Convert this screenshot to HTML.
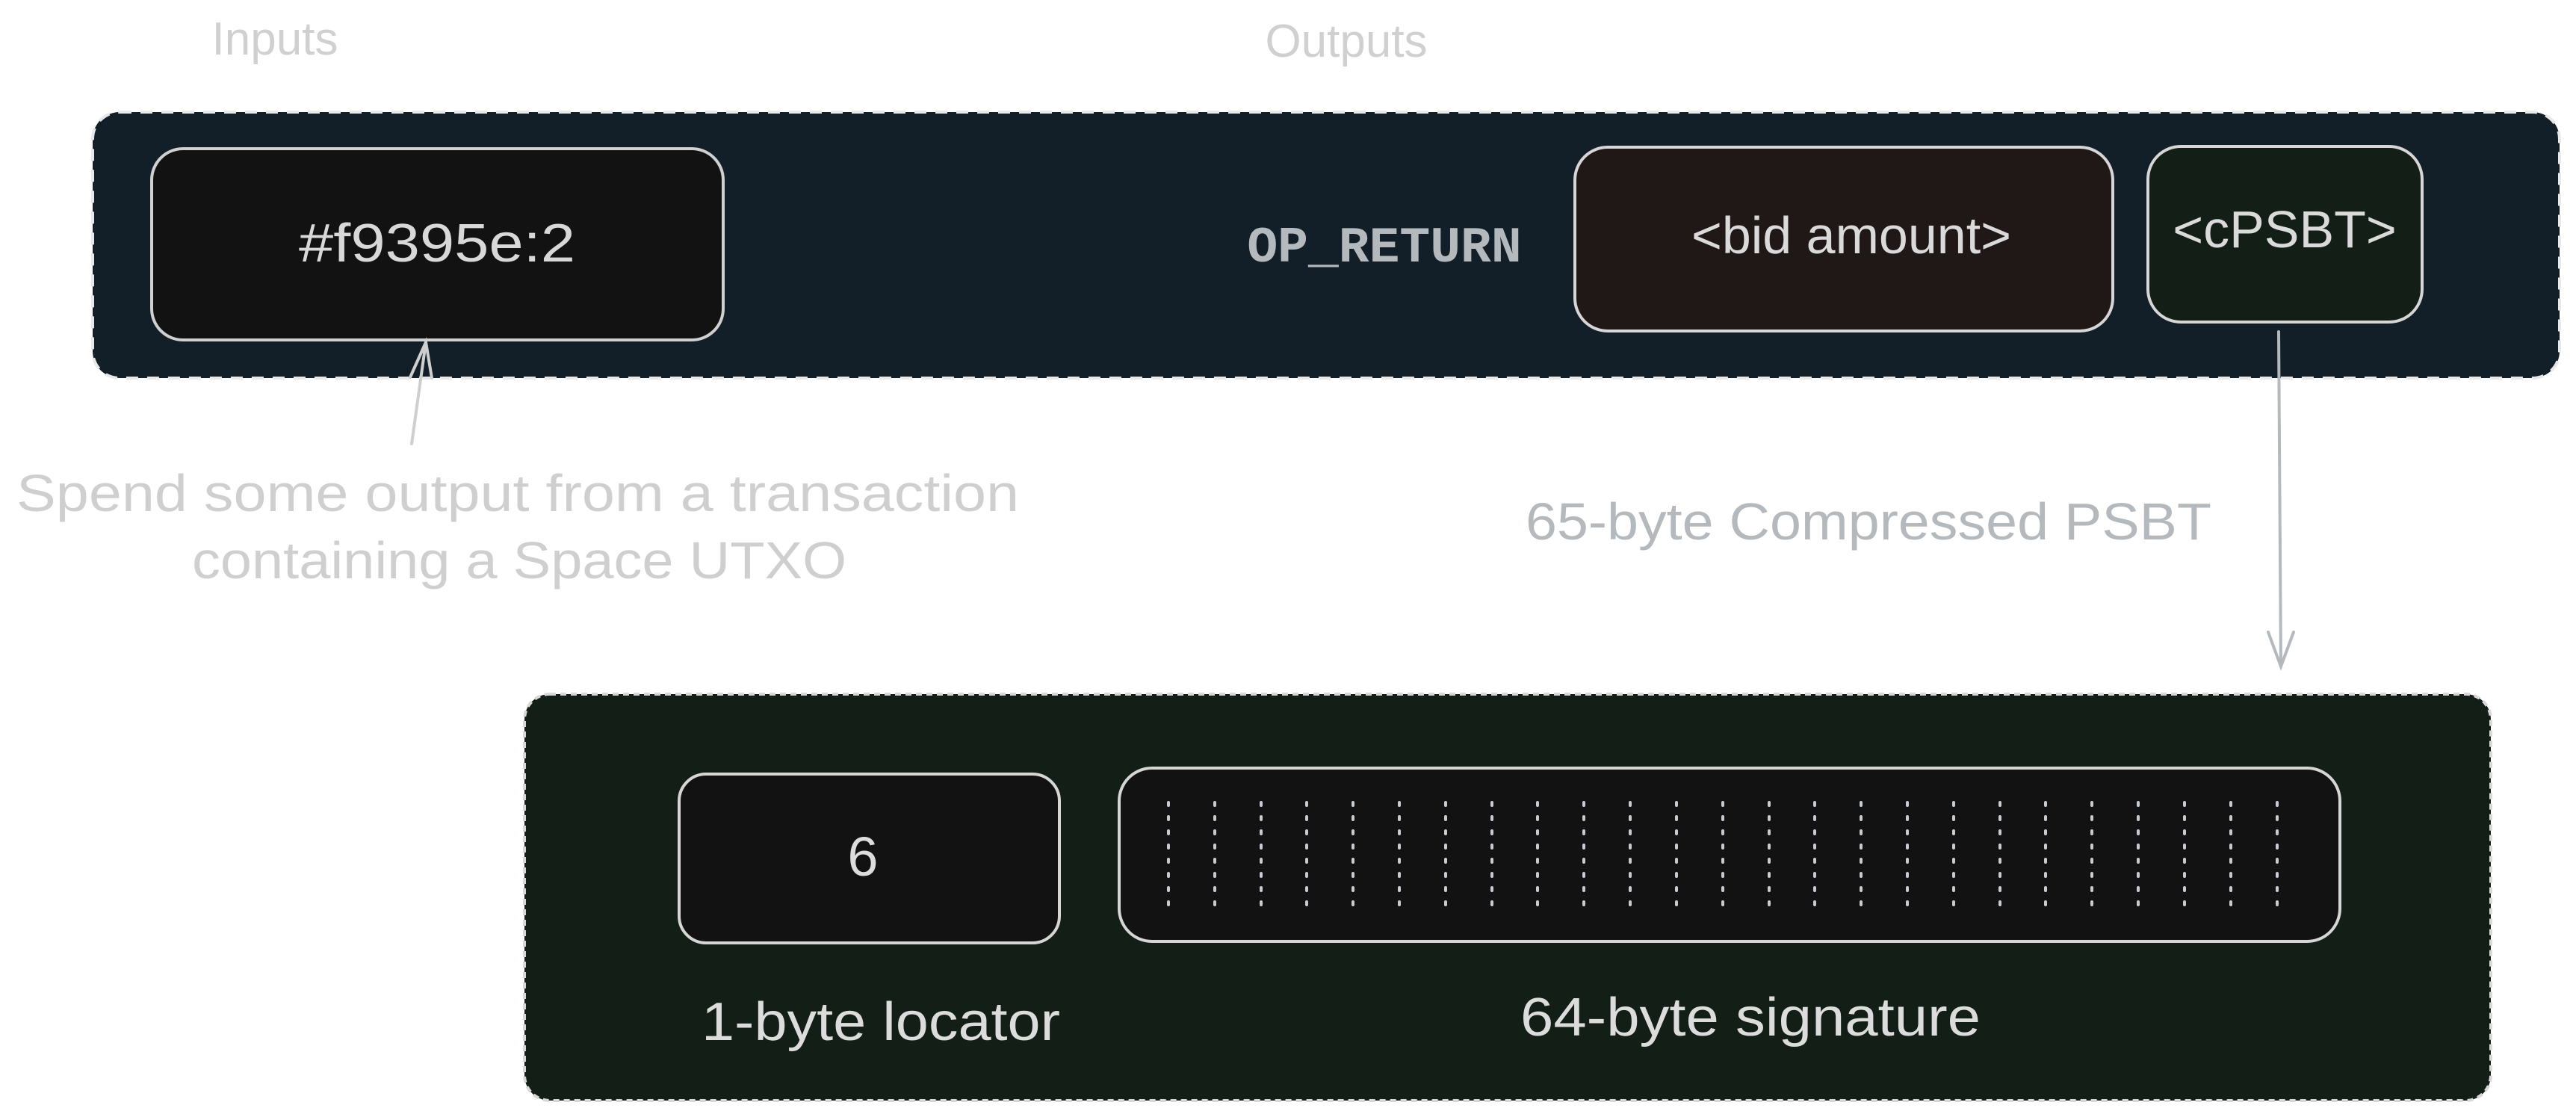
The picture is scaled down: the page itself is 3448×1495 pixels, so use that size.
<!DOCTYPE html>
<html><head><meta charset="utf-8"><style>
html,body{margin:0;padding:0;background:#fff;}
svg{display:block;}
</style></head><body>
<svg width="3448" height="1495" viewBox="0 0 3448 1495" xmlns="http://www.w3.org/2000/svg">
<g font-family="Liberation Sans, sans-serif">
<text x="368" y="73" font-size="62" fill="#d0d0d0" text-anchor="middle">Inputs</text>
<text x="1802" y="76" font-size="62" fill="#d0d0d0" text-anchor="middle">Outputs</text>

<!-- top container -->
<rect x="124" y="150" width="3302" height="356" rx="36" fill="#131f28" stroke="#e8e8e8" stroke-width="4" stroke-dasharray="16 12"/>

<rect x="203" y="199" width="765" height="256" rx="42" fill="#121212" stroke="#d0d0d0" stroke-width="4"/>
<text x="400" y="350" font-size="72" fill="#d8d8d8" textLength="370" lengthAdjust="spacingAndGlyphs">#f9395e:2</text>

<text x="1853" y="350" font-family="Liberation Mono, monospace" font-size="68" font-weight="bold" fill="#b4b9be" text-anchor="middle">OP_RETURN</text>

<rect x="2108" y="197" width="720" height="246" rx="44" fill="#201817" stroke="#d6d6d6" stroke-width="4"/>
<text x="2478" y="339" font-size="70" fill="#dadada" text-anchor="middle">&lt;bid amount&gt;</text>

<rect x="2875" y="196" width="367" height="235" rx="44" fill="#131f16" stroke="#d6d6d6" stroke-width="4"/>
<text x="3058" y="331" font-size="70" fill="#dadada" text-anchor="middle">&lt;cPSBT&gt;</text>

<!-- arrows -->
<g stroke="#b4b9be" stroke-width="4" fill="none" stroke-linecap="round">
<path d="M3050 444 L3053 892"/>
<path d="M3036 846 L3053 892 L3070 846"/>
</g>
<g stroke="#cfcfcf" stroke-width="4" fill="none" stroke-linecap="round">
<path d="M551 594 L570 458"/>
<path d="M549 505 L570 458 L578 506"/>
</g>

<text x="22" y="684" font-size="70" fill="#cfcfcf" textLength="1342" lengthAdjust="spacingAndGlyphs">Spend some output from a transaction</text>
<text x="257" y="774" font-size="70" fill="#cfcfcf" textLength="876" lengthAdjust="spacingAndGlyphs">containing a Space UTXO</text>
<text x="2042" y="722" font-size="70" fill="#b4b9be" textLength="918" lengthAdjust="spacingAndGlyphs">65-byte Compressed PSBT</text>

<!-- bottom container -->
<rect x="702" y="929" width="2632" height="544" rx="34" fill="#121e16" stroke="#d8d8d8" stroke-width="4" stroke-dasharray="8 6"/>

<rect x="909" y="1036" width="509" height="226" rx="36" fill="#121212" stroke="#d6d6d6" stroke-width="4"/>
<text x="1155" y="1172" font-size="74" fill="#dcdcdc" text-anchor="middle">6</text>

<rect x="1498" y="1028" width="1634" height="232" rx="44" fill="#121212" stroke="#d6d6d6" stroke-width="4"/>
<g stroke="#c8ccd0" stroke-width="4" stroke-linecap="round" stroke-dasharray="4 15">
<path d="M1564 1074 V1212"/><path d="M1626 1074 V1212"/><path d="M1688 1074 V1212"/><path d="M1749 1074 V1212"/><path d="M1811 1074 V1212"/>
<path d="M1873 1074 V1212"/><path d="M1935 1074 V1212"/><path d="M1997 1074 V1212"/><path d="M2058 1074 V1212"/><path d="M2120 1074 V1212"/>
<path d="M2182 1074 V1212"/><path d="M2244 1074 V1212"/><path d="M2306 1074 V1212"/><path d="M2368 1074 V1212"/><path d="M2429 1074 V1212"/>
<path d="M2491 1074 V1212"/><path d="M2553 1074 V1212"/><path d="M2615 1074 V1212"/><path d="M2677 1074 V1212"/><path d="M2738 1074 V1212"/>
<path d="M2800 1074 V1212"/><path d="M2862 1074 V1212"/><path d="M2924 1074 V1212"/><path d="M2986 1074 V1212"/><path d="M3048 1074 V1212"/>
</g>

<text x="939" y="1392" font-size="72" fill="#dcdcdc" textLength="480" lengthAdjust="spacingAndGlyphs">1-byte locator</text>
<text x="2035" y="1386" font-size="72" fill="#dcdcdc" textLength="616" lengthAdjust="spacingAndGlyphs">64-byte signature</text>
</g>
</svg>
</body></html>
